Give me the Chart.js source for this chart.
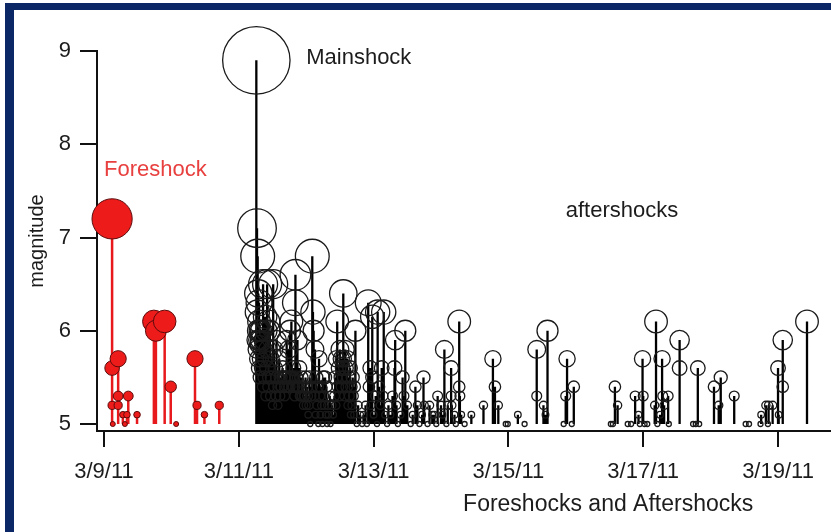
<!DOCTYPE html>
<html>
<head>
<meta charset="utf-8">
<script src="https://cdn.jsdelivr.net/npm/chart.js@4"></script>
<style>
  html, body { margin: 0; padding: 0; background: #ffffff; }
  #wrap { position: relative; width: 831px; height: 532px; overflow: hidden; }
  #frame {
    position: absolute; left: 5px; top: 3px; width: 900px; height: 600px;
    border-top: 7px solid #0b2766; border-left: 9px solid #0b2766;
    pointer-events: none;
  }
  canvas { position: absolute; left: 0; top: 0; }
</style>
</head>
<body>
<div id="wrap">
  <canvas id="quakes" width="831" height="532"></canvas>
  <div id="frame"></div>
</div>
<script>
// Event times are fractional days of March 2011; magnitudes on the JMA scale.
const foreshockDay = [9.12, 9.12, 9.21, 9.21, 9.12, 9.21, 9.28, 9.34, 9.36, 9.49, 9.13, 9.31,
  9.74, 9.77, 9.90, 9.99, 10.07, 10.35, 10.38, 10.49, 10.71];
const foreshockMag = [7.2, 5.6, 5.7, 5.3, 5.2, 5.2, 5.1, 5.1, 5.3, 5.1, 5.0, 5.0,
  6.1, 6.0, 6.1, 5.4, 5.0, 5.7, 5.2, 5.1, 5.2];

const mainshockDay = [11.26];
const mainshockMag = [8.9];

const aftershockDay = [
  11.265, 11.27, 11.27, 11.275, 11.28, 11.28, 11.285, 11.29, 11.29, 11.295,
  11.30, 11.30, 11.305, 11.31, 11.31, 11.315, 11.32, 11.33, 11.34, 11.35,
  11.36, 11.36, 11.37, 11.38, 11.39, 11.39, 11.40, 11.41, 11.42, 11.42,
  11.43, 11.44, 11.44, 11.45, 11.46, 11.47, 11.48, 11.49, 11.50, 11.51,
  11.52, 11.53, 11.54, 11.55, 11.56, 11.57, 11.58, 11.59, 11.60,
  11.61, 11.62, 11.63, 11.64, 11.65, 11.66, 11.67, 11.68, 11.69, 11.70,
  11.71, 11.72, 11.73, 11.74, 11.75, 11.76, 11.77, 11.78, 11.79, 11.80,
  11.81, 11.82, 11.83, 11.84, 11.84, 11.85, 11.86, 11.87, 11.88, 11.89,
  11.90, 11.91, 11.92, 11.93, 11.94, 11.95, 11.96, 11.97, 11.98, 11.99,
  12.00, 12.01, 12.02, 12.03, 12.04, 12.05, 12.06, 12.07, 12.08, 12.09,
  12.10, 12.11, 12.12, 12.13, 12.14, 12.15, 12.16, 12.17, 12.18, 12.19,
  12.20, 12.21, 12.22, 12.23, 12.24, 12.25, 12.26, 12.27, 12.28, 12.29,
  12.30, 12.31, 12.32, 12.33, 12.35, 12.36, 12.38, 12.40,
  12.42, 12.43, 12.44, 12.45, 12.46, 12.47, 12.48, 12.49, 12.50, 12.51,
  12.52, 12.53, 12.54, 12.55, 12.55, 12.56, 12.57, 12.58, 12.59, 12.60,
  12.61, 12.62, 12.63, 12.64, 12.65, 12.66, 12.67, 12.68, 12.69, 12.70,
  12.71, 12.72, 12.73, 12.75, 12.77, 12.80, 12.83, 12.85, 12.88, 12.90,
  12.92, 12.93, 12.95, 12.96, 12.98, 12.98, 13.00,
  13.03, 13.05, 13.06, 13.08, 13.10, 13.12, 13.14, 13.15, 13.17, 13.20,
  13.22, 13.25, 13.28, 13.31, 13.32, 13.34, 13.36, 13.40, 13.43, 13.45,
  13.47, 13.50, 13.55, 13.58, 13.62, 13.65, 13.68, 13.72, 13.74, 13.75,
  13.80, 13.83, 13.87, 13.90, 13.93, 13.95, 14.00, 14.02, 14.05, 14.08,
  14.10, 14.15, 14.15, 14.16, 14.20, 14.22, 14.27, 14.27, 14.28, 14.30,
  14.35, 14.45,
  14.63, 14.77, 14.80, 14.85, 14.96, 14.99, 15.14, 15.24, 15.42, 15.42,
  15.52, 15.55, 15.58, 15.82, 15.85, 15.87, 15.94, 15.97, 16.52, 16.55,
  16.58, 16.62, 16.77, 16.82, 16.88, 16.93, 16.95, 16.99, 17.00, 17.02,
  17.06, 17.17, 17.19, 17.21, 17.25, 17.28, 17.29, 17.31, 17.37, 17.38,
  17.54, 17.54, 17.74, 17.78, 17.81, 17.83, 18.05, 18.12, 18.15, 18.35,
  18.52, 18.57, 18.74, 18.75, 18.82, 18.85, 18.86, 18.92, 19.00, 19.01,
  19.07, 19.07, 19.43
];
const aftershockMag = [
  5.9, 7.1, 5.8, 6.2, 6.8, 5.7, 6.0, 6.4, 5.9, 5.6,
  6.3, 6.1, 5.85, 6.0, 5.5, 5.9, 5.7, 6.0, 5.6, 5.8,
  6.5, 5.4, 5.9, 5.5, 6.15, 5.7, 5.3, 6.0, 6.5, 5.6,
  5.8, 6.1, 5.4, 5.5, 6.0, 5.3, 5.7, 5.5, 5.2, 6.5,
  5.8, 5.4, 5.6, 5.3, 5.9, 5.5, 5.2, 5.4, 5.7,
  5.3, 5.5, 5.4, 5.4, 5.6, 5.5, 5.5, 5.3, 5.4, 5.5,
  5.9, 5.4, 5.5, 5.8, 5.4, 6.0, 5.5, 6.1, 5.5, 5.4,
  5.6, 5.4, 5.3, 6.6, 6.3, 5.5, 5.4, 5.9, 5.4, 5.4,
  5.6, 5.3, 5.3, 5.5, 5.3, 5.4, 5.2, 5.3, 5.3, 5.5,
  5.2, 5.4, 5.3, 5.1, 5.2, 5.5, 5.0, 5.3, 5.4, 6.8,
  6.2, 6.0, 5.3, 5.8, 5.1, 5.5, 5.2, 5.4, 5.0, 5.7,
  5.3, 5.1, 5.4, 5.2, 5.0, 5.5, 5.3, 5.2, 5.5, 5.1,
  5.4, 5.0, 5.2, 5.1, 5.3, 5.0, 5.2, 5.1,
  5.3, 5.5, 5.2, 5.7, 6.1, 5.4, 5.6, 5.3, 5.8, 5.5,
  5.7, 5.4, 5.6, 6.4, 5.7, 5.5, 5.3, 5.8, 5.6, 5.4,
  5.7, 5.2, 5.5, 5.3, 5.6, 5.1, 5.4, 5.2, 5.5, 5.3,
  5.1, 5.4, 6.0, 5.0, 5.2, 5.1, 5.0, 5.1, 5.2, 5.0,
  6.3, 5.4, 5.6, 5.2, 6.15, 5.5, 5.1,
  5.3, 5.0, 6.2, 5.4, 5.2, 5.6, 5.3, 6.2, 5.1, 5.0,
  5.2, 5.1, 5.3, 5.6, 5.9, 5.2, 5.0, 5.1, 5.5, 5.3,
  6.0, 5.2, 5.0, 5.1, 5.4, 5.2, 5.0, 5.1, 5.5, 5.2,
  5.0, 5.2, 5.1, 5.1, 5.0, 5.3, 5.2, 5.1, 5.8, 5.0,
  5.2, 5.6, 5.3, 5.2, 5.1, 5.0, 6.1, 5.4, 5.3, 5.1,
  5.0, 5.1,
  5.2, 5.7, 5.4, 5.2, 5.0, 5.0, 5.1, 5.0, 5.8, 5.3,
  5.2, 5.1, 6.0, 5.0, 5.3, 5.7, 5.0, 5.4, 5.0, 5.0,
  5.4, 5.2, 5.0, 5.0, 5.3, 5.1, 5.0, 5.7, 5.3, 5.0,
  5.0, 5.2, 6.1, 5.0, 5.1, 5.7, 5.3, 5.2, 5.3, 5.0,
  5.9, 5.6, 5.0, 5.0, 5.6, 5.0, 5.4, 5.2, 5.5, 5.3,
  5.0, 5.0, 5.0, 5.1, 5.2, 5.0, 5.2, 5.2, 5.6, 5.1,
  5.9, 5.4, 6.1
];

const xTickDays = [9, 11, 13, 15, 17, 19];
const xTickLabels = ['3/9/11', '3/11/11', '3/13/11', '3/15/11', '3/17/11', '3/19/11'];
const yTickValues = [5, 6, 7, 8, 9];

const BASE_MAG = 5;
const FONT = "'Liberation Sans', Arial, Helvetica, sans-serif";
const INK = '#1c1c1c';

// circle radius grows with magnitude
function radiusFor(m) { return 2.5 + 8 * (m - BASE_MAG); }

function toBubbles(days, mags) {
  return days.map((d, i) => ({ x: d, y: mags[i], r: radiusFor(mags[i]) }));
}

// each stem runs from the base magnitude up to the event; a null point breaks the line
function toStems(days, mags) {
  const out = [];
  days.forEach((d, i) => {
    out.push({ x: d, y: BASE_MAG }, { x: d, y: mags[i] }, { x: d, y: null });
  });
  return out;
}

// free text labels, placed in data coordinates
const notes = [
  { text: 'Mainshock', day: 12.0, mag: 8.925, color: INK, size: 22 },
  { text: 'Foreshock', day: 9.0, mag: 7.72, color: '#e8403f', size: 22 },
  { text: 'aftershocks', day: 15.85, mag: 7.29, color: INK, size: 22 }
];
const xTitle = { text: 'Foreshocks and Aftershocks', day: 16.48, y: 505, size: 23 };

const notesPlugin = {
  id: 'notes',
  afterDraw(chart) {
    const { ctx, scales } = chart;
    ctx.save();
    ctx.textBaseline = 'middle';
    ctx.textAlign = 'left';
    notes.forEach(n => {
      ctx.font = n.size + 'px ' + FONT;
      ctx.fillStyle = n.color;
      ctx.fillText(n.text, scales.x.getPixelForValue(n.day), scales.y.getPixelForValue(n.mag));
    });
    ctx.textAlign = 'center';
    ctx.font = xTitle.size + 'px ' + FONT;
    ctx.fillStyle = INK;
    ctx.fillText(xTitle.text, scales.x.getPixelForValue(xTitle.day), xTitle.y);
    ctx.restore();
  }
};

Chart.defaults.font.family = FONT;

new Chart(document.getElementById('quakes'), {
  type: 'bubble',
  data: {
    datasets: [
      {
        label: 'Foreshock',
        data: toBubbles(foreshockDay, foreshockMag),
        backgroundColor: '#ee1b1b',
        borderColor: '#5c0b0b',
        borderWidth: 1,
        order: 0,
        clip: false
      },
      {
        label: 'Mainshock',
        data: toBubbles(mainshockDay, mainshockMag),
        backgroundColor: 'rgba(0,0,0,0)',
        borderColor: '#1a1a1a',
        borderWidth: 1.3,
        order: 1,
        clip: false
      },
      {
        label: 'aftershocks',
        data: toBubbles(aftershockDay, aftershockMag),
        backgroundColor: 'rgba(0,0,0,0)',
        borderColor: '#1a1a1a',
        borderWidth: 1.3,
        order: 1,
        clip: false
      },
      {
        type: 'line',
        label: 'foreshock stems',
        data: toStems(foreshockDay, foreshockMag),
        borderColor: '#e8191c',
        borderWidth: 2.5,
        pointRadius: 0,
        spanGaps: false,
        order: 2,
        clip: false
      },
      {
        type: 'line',
        label: 'aftershock stems',
        data: toStems(mainshockDay.concat(aftershockDay), mainshockMag.concat(aftershockMag)),
        borderColor: '#000000',
        borderWidth: 2.3,
        pointRadius: 0,
        spanGaps: false,
        order: 3,
        clip: false
      }
    ]
  },
  options: {
    responsive: false,
    animation: false,
    events: [],
    layout: { autoPadding: false, padding: { top: 51, left: 0, right: 0, bottom: 0 } },
    plugins: { legend: { display: false }, tooltip: { enabled: false } },
    scales: {
      x: {
        type: 'linear',
        min: 8.896,
        max: 19.786,
        afterBuildTicks: s => { s.ticks = xTickDays.map(v => ({ value: v })); },
        afterFit: s => { s.height = 101; s.paddingLeft = 0; s.paddingRight = 0; },
        grid: { display: true, drawOnChartArea: false, drawTicks: true, tickLength: 16, color: '#111', lineWidth: 2 },
        border: { display: true, color: '#111', width: 2 },
        ticks: {
          callback: (v, i) => xTickLabels[i],
          font: { size: 22 },
          color: INK,
          padding: 12,
          maxRotation: 0,
          autoSkip: false
        }
      },
      y: {
        type: 'linear',
        min: 4.925,
        max: 9,
        afterBuildTicks: s => { s.ticks = yTickValues.map(v => ({ value: v })); },
        afterFit: s => { s.width = 97; s.paddingTop = 0; s.paddingBottom = 0; },
        grid: { display: true, drawOnChartArea: false, drawTicks: true, tickLength: 17, color: '#111', lineWidth: 2 },
        border: { display: true, color: '#111', width: 2 },
        ticks: { font: { size: 22 }, color: INK, padding: 9 },
        title: { display: true, text: 'magnitude', font: { size: 20 }, color: INK, padding: { top: 25, bottom: 0 } }
      }
    }
  },
  plugins: [notesPlugin]
});
</script>
</body>
</html>
